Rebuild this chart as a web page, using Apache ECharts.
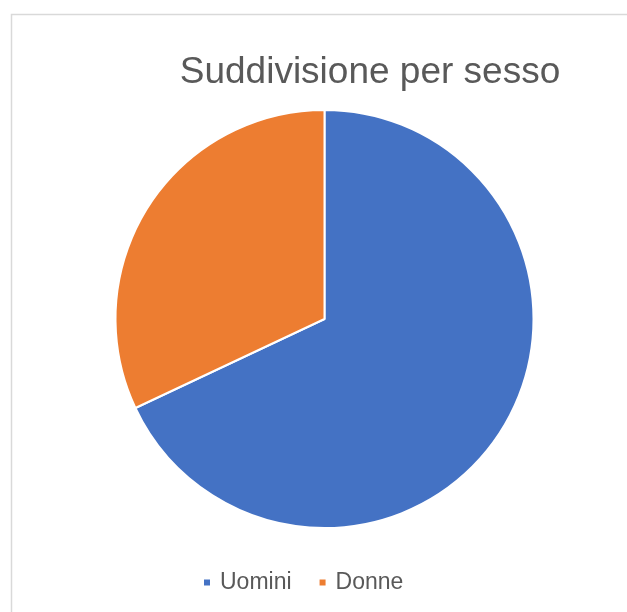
<!DOCTYPE html>
<html><head><meta charset="utf-8">
<script src="https://cdn.jsdelivr.net/npm/echarts@6/dist/echarts.min.js"></script>
<style>html,body{margin:0;padding:0;background:#fff}#c{width:627px;height:612px}</style>
</head><body><div id="c"></div>
<script>
const categories = ['Uomini', 'Donne'];
const values = [68, 32];
const colors = ['#4472C4', '#ED7D31'];
const titleText = 'Suddivisione per sesso';

const chart = echarts.init(document.getElementById('c'), null, {renderer: 'canvas'});
chart.setOption({
  animation: false,
  backgroundColor: '#fff',
  graphic: [{
    type: 'rect', left: 9, top: 12,
    shape: {width: 640, height: 620},
    style: {fill: 'none', stroke: '#D9D9D9', lineWidth: 1.5}, silent: true
  }],
  title: {
    text: titleText, left: 370, top: 49, textAlign: 'center',
    textStyle: {fontFamily: 'Liberation Sans', fontSize: 37, fontWeight: 'normal', color: '#595959'}
  },
  legend: {
    data: categories, left: 197, top: 566, icon: 'rect', itemWidth: 8, itemHeight: 8,
    itemGap: 26, textStyle: {fontFamily: 'Liberation Sans', fontSize: 23, color: '#595959', padding: [0,0,0,4]}
  },
  series: [{
    type: 'pie', center: [324.5, 319], radius: [0, 209], startAngle: 90, clockwise: true,
    label: {show: false}, labelLine: {show: false},
    itemStyle: {borderColor: '#fff', borderWidth: 2},
    data: categories.map((n, i) => ({name: n, value: values[i], itemStyle: {color: colors[i]}}))
  }]
});
chart.setOption({title: {left: 365}});
</script></body></html>
